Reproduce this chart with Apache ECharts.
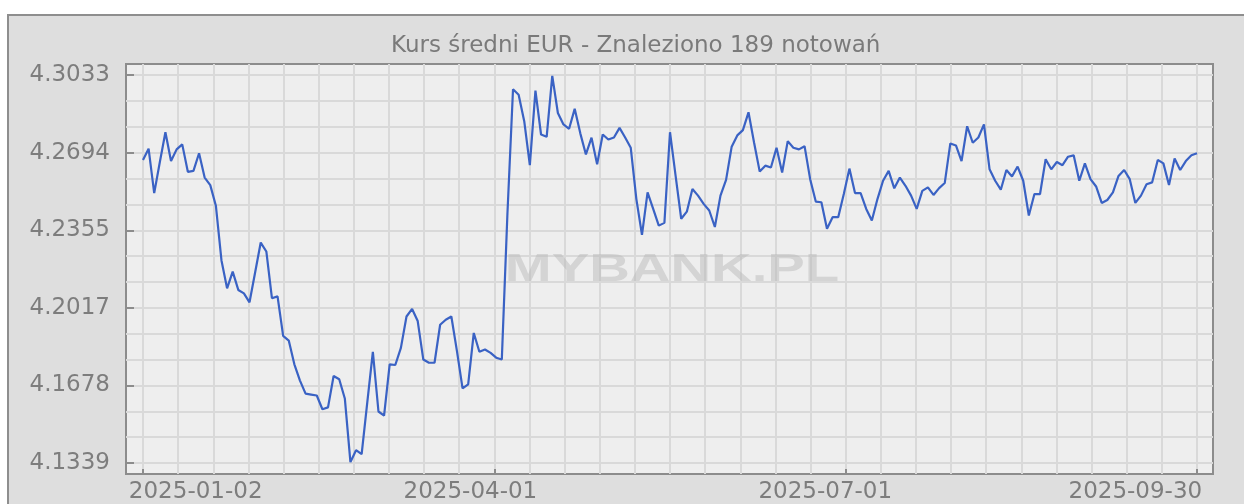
<!DOCTYPE html>
<html>
<head>
<meta charset="utf-8">
<script src="https://cdn.jsdelivr.net/npm/echarts@6/dist/echarts.min.js"></script>
<style>
  html, body { margin: 0; padding: 0; background: #fff; }
  #main { width: 1244px; height: 504px; }
</style>
</head>
<body>
<div id="main"></div>
<script>
// kurs średni EUR, 189 notowań
var rates = [
  4.2663, 4.2712, 4.2518, 4.2653, 4.2784, 4.2658, 4.2709, 4.2731, 4.2611, 4.2615,
  4.2692, 4.2586, 4.2553, 4.2463, 4.2224, 4.2102, 4.2175, 4.2095, 4.2080, 4.2041,
  4.2171, 4.2302, 4.2263, 4.2059, 4.2067, 4.1894, 4.1874, 4.1770, 4.1699, 4.1642,
  4.1638, 4.1634, 4.1574, 4.1582, 4.1719, 4.1705, 4.1621, 4.1343, 4.1395, 4.1378,
  4.1603, 4.1825, 4.1564, 4.1546, 4.1770, 4.1767, 4.1842, 4.1979, 4.2012, 4.1959,
  4.1791, 4.1777, 4.1777, 4.1943, 4.1965, 4.1979, 4.1828, 4.1665, 4.1683, 4.1907,
  4.1825, 4.1835, 4.1820, 4.1799, 4.1791, 4.2427, 4.2972, 4.2948, 4.2832, 4.2640,
  4.2966, 4.2774, 4.2764, 4.3030, 4.2868, 4.2818, 4.2799, 4.2886, 4.2779, 4.2687,
  4.2760, 4.2644, 4.2774, 4.2752, 4.2761, 4.2803, 4.2761, 4.2716, 4.2492, 4.2336,
  4.2521, 4.2449, 4.2376, 4.2388, 4.2784, 4.2593, 4.2406, 4.2437, 4.2536, 4.2507,
  4.2471, 4.2442, 4.2370, 4.2507, 4.2576, 4.2721, 4.2770, 4.2793, 4.2871, 4.2738,
  4.2612, 4.2638, 4.2630, 4.2716, 4.2608, 4.2745, 4.2716, 4.2709, 4.2723, 4.2579,
  4.2481, 4.2478, 4.2362, 4.2413, 4.2413, 4.2514, 4.2625, 4.2518, 4.2518, 4.2449,
  4.2398, 4.2492, 4.2572, 4.2615, 4.2539, 4.2586, 4.2550, 4.2507, 4.2449, 4.2528,
  4.2543, 4.2510, 4.2540, 4.2562, 4.2735, 4.2726, 4.2658, 4.2810, 4.2738, 4.2761,
  4.2818, 4.2622, 4.2572, 4.2533, 4.2619, 4.2591, 4.2634, 4.2572, 4.2420, 4.2514,
  4.2514, 4.2666, 4.2622, 4.2654, 4.2640, 4.2677, 4.2683, 4.2572, 4.2648, 4.2579,
  4.2547, 4.2475, 4.2488, 4.2521, 4.2593, 4.2619, 4.2579, 4.2475, 4.2507, 4.2557,
  4.2565, 4.2663, 4.2648, 4.2553, 4.2669, 4.2619, 4.2658, 4.2683, 4.2692
];

// opisy osi
var yTickLabels = ['4.1339', '4.1678', '4.2017', '4.2355', '4.2694', '4.3033'];
var dateLabels = ['2025-01-02', '2025-04-01', '2025-07-01', '2025-09-30'];
var dateLabelAt = [9.4, 58.4, 121.7, 177];   // numer notowania pod którym stoi etykieta
var dateTickAt = [0, 62.667, 125.333, 188];

var titleText = 'Kurs średni EUR - Znaleziono 189 notowań';
var watermark = 'MYBANK.PL';

// siatka: 3 linie pomiędzy opisami osi Y, 30 kolumn na osi X
var yTickValues = yTickLabels.map(Number);
var yStep = (yTickValues[yTickValues.length - 1] - yTickValues[0]) / 15;
var yGrid = [];
for (var k = 0; k <= 15; k++) yGrid.push(+(yTickValues[0] + k * yStep).toFixed(6));
var xGrid = [];
for (var j = 0; j <= 30; j++) xGrid.push(+(j * (rates.length - 1) / 30).toFixed(4));

var FONT = 'DejaVu Sans';
var X_MIN = -3.03, X_MAX = 190.85;
var Y_MIN = 4.1291, Y_MAX = 4.3082;

var myChart = echarts.init(document.getElementById('main'));

var option = {
  backgroundColor: '#ffffff',
  animation: false,
  title: {
    text: titleText,
    left: 386,
    top: 30,
    textStyle: { fontFamily: FONT, fontSize: 23, fontWeight: 'normal', color: '#7a7a7a' }
  },
  graphic: [
    {
      type: 'rect', z: -10, silent: true,
      shape: { x: 8, y: 15, width: 1260, height: 520 },
      style: { fill: '#dedede', stroke: '#8e8e8e', lineWidth: 2 }
    },
    {
      type: 'text', z: 1, silent: true,
      x: 672, y: 271, scaleX: 1.48,
      style: {
        text: watermark, align: 'center', verticalAlign: 'middle',
        font: 'bold 38px "Liberation Sans"', fill: 'rgba(185,185,185,0.5)'
      }
    }
  ],
  grid: {
    left: 126, top: 64, width: 1087, height: 413,
    show: true, backgroundColor: '#eeeeee', borderColor: '#8c8c8c', borderWidth: 2
  },
  xAxis: [
    {
      type: 'value', min: X_MIN, max: X_MAX,
      axisLine: { show: false, onZero: false },
      axisLabel: { show: false },
      axisTick: { show: false, customValues: xGrid },
      splitLine: { show: true, lineStyle: { color: '#d9d9d9', width: 2 } }
    },
    {
      type: 'value', min: X_MIN, max: X_MAX, position: 'bottom',
      axisLine: { show: false, onZero: false },
      splitLine: { show: false },
      axisTick: { show: true, inside: true, length: 5, customValues: dateTickAt,
                  lineStyle: { color: '#8c8c8c', width: 2 } },
      axisLabel: {
        customValues: dateLabelAt, margin: 7,
        fontFamily: FONT, fontSize: 23, color: '#7d7d7d',
        formatter: function (v) {
          var best = 0;
          for (var i = 1; i < dateLabelAt.length; i++) {
            if (Math.abs(dateLabelAt[i] - v) < Math.abs(dateLabelAt[best] - v)) best = i;
          }
          return dateLabels[best];
        }
      }
    }
  ],
  yAxis: [
    {
      type: 'value', min: Y_MIN, max: Y_MAX,
      axisLine: { show: false, onZero: false },
      axisLabel: { show: false },
      axisTick: { show: false, customValues: yGrid },
      splitLine: { show: true, lineStyle: { color: '#d9d9d9', width: 2 } }
    },
    {
      type: 'value', min: Y_MIN, max: Y_MAX, position: 'left',
      axisLine: { show: false, onZero: false },
      splitLine: { show: false },
      axisTick: { show: true, inside: true, length: 8, customValues: yTickValues,
                  lineStyle: { color: '#8c8c8c', width: 2 } },
      axisLabel: {
        customValues: yTickValues, margin: 16,
        fontFamily: FONT, fontSize: 23, color: '#7d7d7d',
        formatter: function (v) {
          var best = 0;
          for (var i = 1; i < yTickValues.length; i++) {
            if (Math.abs(yTickValues[i] - v) < Math.abs(yTickValues[best] - v)) best = i;
          }
          return yTickLabels[best];
        }
      }
    }
  ],
  series: [
    {
      type: 'line',
      xAxisIndex: 0,
      yAxisIndex: 0,
      z: 3,
      showSymbol: false,
      silent: true,
      lineStyle: { color: '#3a62c4', width: 2.2 },
      data: rates.map(function (v, i) { return [i, v]; })
    }
  ]
};
myChart.setOption(option);
</script>
</body>
</html>
